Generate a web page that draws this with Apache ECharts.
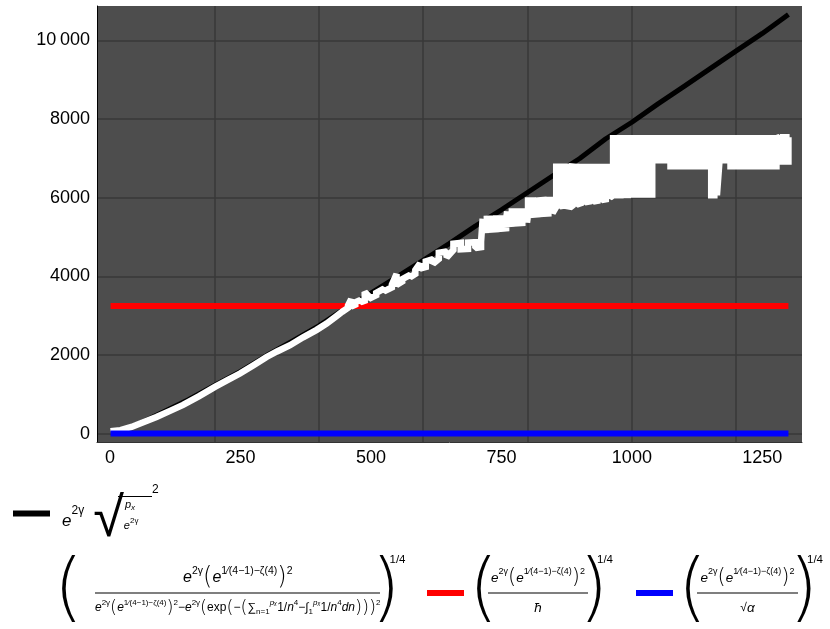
<!DOCTYPE html>
<html><head><meta charset="utf-8">
<script src="https://cdn.jsdelivr.net/npm/echarts@6/dist/echarts.min.js"></script>
<style>html,body{margin:0;padding:0;background:#fff}#c{width:830px;height:629px}</style>
</head><body><div id="c"></div>
<script>
// ---------- data ----------
const xTickLabels = [0, 250, 500, 750, 1000, 1250];
const xGridValues = [200, 400, 600, 800, 1000, 1200];
const yTickLabels = [0, 2000, 4000, 6000, 8000, 10000];

const blackX = [1, 10, 25, 50, 75, 100, 150, 200, 250, 300, 350, 400, 450, 500, 550, 600, 650, 700, 750, 800, 850, 900, 950, 1000, 1050, 1100, 1150, 1200, 1250, 1300];
const blackY = [2, 29, 97, 229, 379, 541, 863, 1223, 1583, 1987, 2357, 2741, 3181, 3571, 3989, 4409, 4831, 5279, 5693, 6133, 6571, 6997, 7499, 7919, 8387, 8831, 9283, 9733, 10177, 10657];

const whiteX = [1, 20, 41, 60, 89, 115, 140, 170, 201, 225, 249, 275, 300, 320, 345, 370, 396, 415, 434, 445,
  456, 462, 470, 480, 488, 496, 510, 525, 540, 549, 560, 575, 585, 594, 605, 619, 630, 645, 658, 672, 686, 700, 711,
  714, 722, 731, 740, 750, 759, 761, 770, 780, 790, 799, 801, 810, 820, 830, 840, 848,
  855, 862, 870, 878, 886, 894, 902, 910, 918, 926, 934, 942, 950, 958,
  964, 971, 978, 985, 992, 999, 1007, 1015, 1023, 1031, 1039,
  1044, 1052, 1060, 1068, 1074, 1082, 1090, 1098, 1106, 1114, 1122, 1130, 1138, 1146,
  1152, 1158, 1163, 1168, 1175, 1182, 1189, 1197, 1205, 1213, 1221, 1229, 1237, 1245, 1253, 1261, 1269, 1277,
  1283, 1290, 1296, 1300];
const whiteLo = [60, 90, 170, 270, 425, 580, 730, 950, 1190, 1360, 1530, 1740, 1950, 2090, 2250, 2450, 2640, 2800, 2990, 3100,
  3200, 3230, 3280, 3340, 3380, 3430, 3520, 3620, 3720, 3780, 3870, 3980, 4060, 4200, 4240, 4320, 4440, 4480, 4670, 4690, 4700, 4720, 4740,
  5175, 5180, 5190, 5200, 5210, 5220, 5330, 5340, 5350, 5360, 5370, 5560, 5570, 5580, 5590, 5600, 5610,
  5770, 5780, 5800, 5780, 5760, 5820, 5860, 5880, 5900, 5900, 5920, 5940, 5960, 6000,
  6060, 6060, 6060, 6070, 6070, 6080, 6080, 6080, 6080, 6080, 6080,
  6950, 6950, 6950, 6950, 6800, 6800, 6800, 6800, 6800, 6800, 6800, 6800, 6800, 6800,
  6060, 6060, 6060, 6950, 6950, 6950, 6800, 6800, 6800, 6800, 6800, 6800, 6800, 6800, 6800, 6800, 6800, 6800,
  6920, 6920, 6920, 6920];
const whiteHi = [60, 90, 170, 270, 425, 580, 730, 950, 1190, 1360, 1530, 1740, 1950, 2090, 2250, 2450, 2640, 2800, 2990, 3100,
  3260, 3420, 3340, 3400, 3600, 3490, 3580, 3690, 3790, 4060, 3930, 4040, 4160, 4330, 4380, 4440, 4600, 4630, 4830, 4850, 4860, 4870, 4880,
  5465, 5465, 5470, 5470, 5470, 5470, 5650, 5650, 5650, 5650, 5650, 5930, 5930, 5930, 5940, 5940, 5940,
  6790, 6790, 6790, 6790, 6790, 6780, 6780, 6780, 6780, 6780, 6780, 6780, 6780, 6780,
  7510, 7510, 7510, 7510, 7510, 7510, 7510, 7510, 7510, 7510, 7510,
  7510, 7510, 7510, 7510, 7510, 7510, 7510, 7510, 7510, 7510, 7510, 7510, 7510, 7510,
  7510, 7510, 7510, 7510, 7510, 7510, 7510, 7510, 7510, 7510, 7510, 7510, 7510, 7510, 7510, 7510, 7510, 7510,
  7540, 7540, 7540, 7540];

const redX = [1, 1300];
const redY = [3245, 3245];
const blueX = [1, 1300];
const blueY = [1.7, 1.7];

const nameBlack = 'e^(2γ)·√(pₓ/e^(2γ))²';
const nameWhite = '(e^(2γ)(e^(1/(4−1)−ζ(4)))²/(e^(2γ)(e^(1/(4−1)−ζ(4)))²−e^(2γ)(exp(−(Σ1/n⁴−∫1/n⁴dn)))²))^(1/4)';
const nameRed = '(e^(2γ)(e^(1/(4−1)−ζ(4)))²/ħ)^(1/4)';
const nameBlue = '(e^(2γ)(e^(1/(4−1)−ζ(4)))²/√α)^(1/4)';

// ---------- build ----------
const pairs = (xs, ys) => xs.map((x, i) => [x, ys[i]]);
const whitePts = [];
whiteX.forEach((x, i) => {
  const a = i % 2 === 0 ? whiteLo[i] : whiteHi[i];
  const b = i % 2 === 0 ? whiteHi[i] : whiteLo[i];
  whitePts.push([x, a]);
  if (a !== b) whitePts.push([x, b]);
});

const F = 'Liberation Sans';
const PF = 'DejaVu Sans';
function S(o) { return Object.assign({ fontFamily: F, color: '#000' }, o); }
const mathBase = {
  EB: S({ fontSize: 16, fontStyle: 'italic' }),
  QB: S({ fontSize: 10.5, padding: [0, 0, 13, 0] }),
  MB: S({ fontSize: 24, fontFamily: PF, fontWeight: 200 }),
  E: S({ fontSize: 13.5, fontStyle: 'italic' }),
  Q: S({ fontSize: 9, padding: [0, 0, 12, 0] }),
  M: S({ fontSize: 21, fontFamily: PF, fontWeight: 200 }),
  e: S({ fontSize: 12, fontStyle: 'italic' }),
  r: S({ fontSize: 12 }),
  s: S({ fontSize: 8, padding: [0, 0, 11, 0] }),
  si: S({ fontSize: 8, fontStyle: 'italic', padding: [0, 0, 11, 0] }),
  b: S({ fontSize: 8, padding: [8, 0, 0, 0] }),
  m: S({ fontSize: 18, fontFamily: PF, fontWeight: 200 })
};
function centered(base) {
  const o = {};
  for (const k in base) { o[k] = base[k]; o['c' + k] = Object.assign({}, base[k], { align: 'center' }); }
  return o;
}
function T(list, c) { return list.map(([k, t]) => '{' + (c ? 'c' : '') + k + '|' + t + '}').join(''); }
const numTokens = [['E', 'e'], ['Q', '2γ'], ['M', '('], ['E', 'e'], ['Q', '1⁄(4−1)−ζ(4)'], ['M', ')'], ['Q', '2']];
const numTokensBig = [['EB', 'e'], ['QB', '2γ'], ['MB', '('], ['EB', 'e'], ['QB', '1⁄(4−1)−ζ(4)'], ['MB', ')'], ['QB', '2']];
const whiteDen = [['e', 'e'], ['s', '2γ'], ['m', '('], ['e', 'e'], ['s', '1⁄(4−1)−ζ(4)'], ['m', ')'], ['s', '2'],
  ['r', '−'], ['e', 'e'], ['s', '2γ'], ['m', '('], ['r', 'exp'], ['m', '('], ['r', '−'], ['m', '('],
  ['r', '∑'], ['b', 'n=1'], ['si', 'pₓ'], ['r', '1/'], ['e', 'n'], ['s', '4'], ['r', '−∫'], ['b', '1'], ['si', 'pₓ'],
  ['r', '1/'], ['e', 'n'], ['s', '4'], ['e', 'dn'], ['m', ')))'], ['s', '2']];
const redDen = [['E', 'ħ']];
const blueDen = [['r', '√'], ['E', 'α']];

function fracRich(o) {
  const r = centered(mathBase);
  const LH = 4;
  const P = { fontSize: 74, fontFamily: PF, fontWeight: 200, lineHeight: LH };
  r.pl = { width: o.lpad + o.lpW };
  r.pr = { width: o.rpW, align: 'right' };
  r.q = S({ fontSize: 11.5, width: o.qW, align: 'right', padding: [0, 0, 36, 0] });
  r.lpad = { width: o.lpad, lineHeight: LH };
  r.lp = S(Object.assign({ width: o.lpW }, P));
  r.bar = { width: o.barW, height: 1, backgroundColor: '#000', lineHeight: LH };
  r.rp = S(Object.assign({ width: o.rpW, align: 'right' }, P));
  r.qpad = { width: o.qW, align: 'right', lineHeight: LH };
  r.pr2 = { width: o.rpW + o.qW, align: 'right' };
  return r;
}
function fracText(num, den) {
  return '{pl| }' + T(num, true) + '{pr| }{q|1/4}\n{lpad| }{lp|(}{bar| }{rp|)}{qpad| }\n{pl| }' + T(den, true) + '{pr2| }';
}

const blackRich = {
  bp1: { width: 63, lineHeight: 8 },
  ovl: { width: 34, height: 1, backgroundColor: '#000', lineHeight: 8, verticalAlign: 'bottom' },
  two: S({ fontSize: 12, lineHeight: 8, padding: [0, 0, 6, 0] }),
  bp2: { width: 70, lineHeight: 16 },
  np: S({ fontSize: 11, fontStyle: 'italic', lineHeight: 16 }),
  nx: S({ fontSize: 8, fontStyle: 'italic', lineHeight: 16, padding: [6, 0, 0, 0] }),
  bp3: { width: 7, lineHeight: 16 },
  be: S({ fontSize: 17, fontStyle: 'italic', lineHeight: 16 }),
  bs: S({ fontSize: 12, lineHeight: 16, padding: [0, 0, 20, 0] }),
  bp6: { width: 9, lineHeight: 16 },
  rad: S({ fontSize: 56, fontFamily: F, lineHeight: 16, height: 16 }),
  de: S({ fontSize: 11, fontStyle: 'italic', lineHeight: 16, padding: [10, 0, 0, 0] }),
  ds: S({ fontSize: 8, lineHeight: 16 })
};
const blackText = '{bp1| }{ovl| }{two|2}\n{bp2| }{np|p}{nx|x}\n{bp3| }{be|e}{bs|2γ}{bp6| }{rad|√}{de|e}{ds|2γ}';

function legendCfg(name, left, top, rich, text, pad, lh) {
  return {
    data: [name], left: left, top: top, orient: 'horizontal', padding: 0,
    itemWidth: 37, itemHeight: 6, icon: 'rect', selectedMode: false,
    formatter: () => text,
    textStyle: { rich: rich, lineHeight: lh, padding: pad, color: '#000', fontFamily: F, fontSize: 12 }
  };
}

const axisFont = { color: '#000', fontSize: 18, fontFamily: F };
const gridLine = { show: true, lineStyle: { color: '#383838', width: 1.5 } };

const option = {
  animation: false,
  backgroundColor: '#ffffff',
  tooltip: { show: false },
  grid: { left: 97, right: 28, top: 6, bottom: 187, show: true, backgroundColor: '#4d4d4d', borderWidth: 0, containLabel: false, outerBoundsMode: 'none' },
  xAxis: {
    type: 'value', min: -25, max: 1326,
    axisLine: { show: true, onZero: false, lineStyle: { color: '#333', width: 1 } },
    axisTick: { show: false, customValues: xGridValues },
    axisLabel: Object.assign({ customValues: xTickLabels, margin: 7, formatter: v => String(v) }, axisFont),
    splitLine: gridLine
  },
  yAxis: {
    type: 'value', min: -212, max: 10875,
    axisLine: { show: true, onZero: false, lineStyle: { color: '#000', width: 1 } },
    axisTick: { show: false, customValues: yTickLabels },
    axisLabel: Object.assign({ customValues: yTickLabels, margin: 7, formatter: v => v >= 10000 ? '10\u2009000' : String(v) }, axisFont),
    splitLine: gridLine
  },
  legend: [
    legendCfg(nameBlack, 13, 484, blackRich, blackText, [0, 0, 9, 0], 16),
    legendCfg(nameWhite, 9, 554, fracRich({ lpad: 3, lpW: 41, barW: 285, rpW: 20, qW: 5 }), fracText(numTokensBig, whiteDen), 0, 26),
    legendCfg(nameRed, 427, 554, fracRich({ lpad: 0, lpW: 19, barW: 100, rpW: 20, qW: 5 }), fracText(numTokens, redDen), 0, 26),
    legendCfg(nameBlue, 636, 554, fracRich({ lpad: 0, lpW: 19, barW: 101, rpW: 20, qW: 5 }), fracText(numTokens, blueDen), 0, 26)
  ],
  series: [
    { name: nameBlack, type: 'line', data: pairs(blackX, blackY), showSymbol: false, symbol: 'none', z: 2, silent: true,
      lineStyle: { color: '#000', width: 5, join: 'round' }, itemStyle: { color: '#000' }, emphasis: { disabled: true } },
    { name: nameRed, type: 'line', data: pairs(redX, redY), showSymbol: false, symbol: 'none', z: 3, silent: true,
      lineStyle: { color: '#ff0000', width: 6 }, itemStyle: { color: '#ff0000' }, emphasis: { disabled: true } },
    { name: nameWhite, type: 'line', data: whitePts, showSymbol: false, symbol: 'none', z: 4, silent: true,
      lineStyle: { color: '#ffffff', width: 6.5, join: 'miter', miterLimit: 1.5 }, itemStyle: { color: '#ffffff' }, emphasis: { disabled: true } },
    { name: nameBlue, type: 'line', data: pairs(blueX, blueY), showSymbol: false, symbol: 'none', z: 5, silent: true,
      lineStyle: { color: '#0000ff', width: 6 }, itemStyle: { color: '#0000ff' }, emphasis: { disabled: true } }
  ]
};
const chart = echarts.init(document.getElementById('c'), null, { renderer: 'canvas' });
chart.setOption(option);
</script></body></html>
